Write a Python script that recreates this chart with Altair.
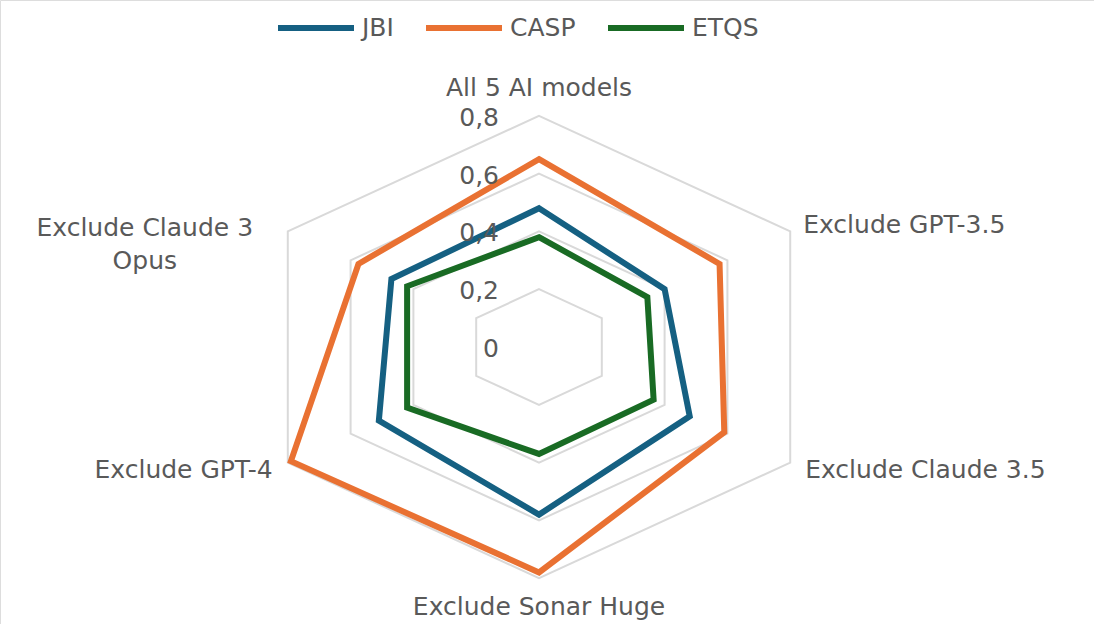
import math
import altair as alt
import pandas as pd

# ---- data ----
categories = ["All 5 AI models", "Exclude GPT-3.5", "Exclude Claude 3.5",
              "Exclude Sonar Huge", "Exclude GPT-4", "Exclude Claude 3 Opus"]
axis_labels = ["All 5 AI models", "Exclude GPT-3.5", "Exclude Claude 3.5",
               "Exclude Sonar Huge", "Exclude GPT-4", "Exclude Claude 3\nOpus"]
jbi = [0.48, 0.40, 0.48, 0.58, 0.51, 0.47]
casp = [0.65, 0.575, 0.59, 0.78, 0.79, 0.575]
etqs = [0.38, 0.345, 0.365, 0.37, 0.42, 0.42]
series_names = ["JBI", "CASP", "ETQS"]
series_colors = ["#156082", "#E97132", "#196B24"]
ring_levels = [0.2, 0.4, 0.6, 0.8]
tick_values = [0, 0.2, 0.4, 0.6, 0.8]
tick_labels = ["0", "0,2", "0,4", "0,6", "0,8"]

FONT = "DejaVu Sans"
TXT = "#595959"
FS = 25

rows = []
for name, vals in zip(series_names, [jbi, casp, etqs]):
    for i, (c, v) in enumerate(zip(categories, vals)):
        rows.append({"series": name, "idx": i, "category": c, "value": v})
series_df = pd.DataFrame(rows)

ring_df = pd.DataFrame([{"level": lv, "idx": i, "value": lv}
                        for lv in ring_levels for i in range(len(categories))])
tick_df = pd.DataFrame({"value": tick_values, "label": tick_labels, "idx": 0})
label_df = pd.DataFrame({"idx": list(range(len(categories))), "label": axis_labels,
                         "value": ring_levels[-1]})

n = len(categories)
xscale = alt.Scale(domain=[-1.4865, 1.5306], nice=False, zero=False)
yscale = alt.Scale(domain=[-0.9585, 1.2007], nice=False, zero=False)


def polar(ch):
    return ch.transform_calculate(
        ang=f"datum.idx * 2 * PI / {n}"
    ).transform_calculate(
        px="datum.value * sin(datum.ang)",
        py="datum.value * cos(datum.ang)",
    )


def xy():
    return dict(x=alt.X("px:Q", scale=xscale, axis=None),
                y=alt.Y("py:Q", scale=yscale, axis=None))


rings = polar(alt.Chart(ring_df)).mark_line(
    interpolate="linear-closed", color="#D9D9D9", strokeWidth=2
).encode(**xy(), detail="level:N", order="idx:Q")

lines = polar(alt.Chart(series_df)).mark_line(
    interpolate="linear-closed", strokeWidth=6, strokeJoin="miter"
).encode(
    **xy(),
    color=alt.Color(
        "series:N",
        scale=alt.Scale(domain=series_names, range=series_colors),
        sort=series_names,
        legend=alt.Legend(
            orient="none", legendX=275, legendY=-13, direction="horizontal",
            title=None, symbolType="stroke", symbolSize=5776,
            symbolStrokeWidth=6, labelFontSize=25, labelFont=FONT,
            labelColor=TXT, columnPadding=20, labelOffset=5, padding=0,
        ),
    ),
    order="idx:Q",
)

ticks = polar(alt.Chart(tick_df)).mark_text(
    align="right", baseline="middle", dx=-40, dy=2, font=FONT, fontSize=FS, color=TXT
).encode(**xy(), text="label:N")


def label_layer(idxs, **kw):
    return polar(alt.Chart(label_df)).transform_filter(
        alt.FieldOneOfPredicate(field="idx", oneOf=idxs)
    ).mark_text(baseline="middle", font=FONT, fontSize=FS, color=TXT,
                lineBreak="\n", lineHeight=33, **kw).encode(**xy(), text="label:N")


labels = [
    label_layer([0], align="center", dy=-28),
    label_layer([1], align="left", dx=13, dy=-6),
    label_layer([2], align="left", dx=15, dy=7),
    label_layer([3], align="center", dy=29),
    label_layer([4], align="right", dx=-15, dy=7),
    label_layer([5], align="center", dx=-143, dy=-3),
]

chart = alt.layer(rings, lines, ticks, *labels).properties(
    width=1094, height=624, padding=0,
    autosize=alt.AutoSizeParams(type="none"),
).configure_view(stroke=None).configure(background="white")

chart.save("out.html", embed_options={"renderer": "svg", "actions": False})
